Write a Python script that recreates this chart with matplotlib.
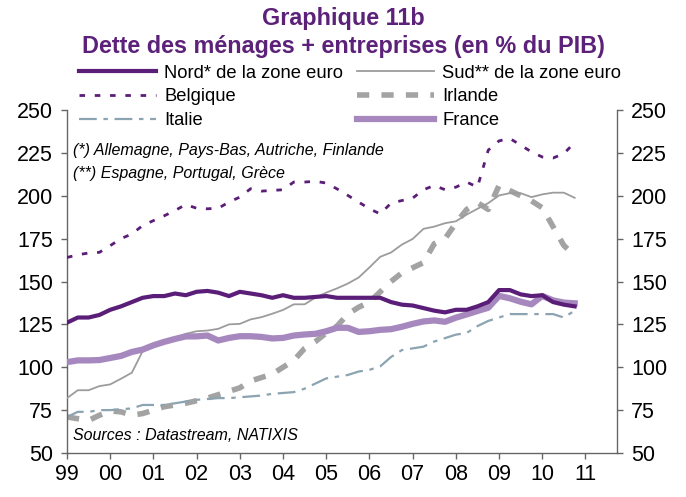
import matplotlib
matplotlib.use("Agg")
import matplotlib.pyplot as plt
import numpy as np

plt.rcParams['font.family'] = ['Liberation Sans', 'DejaVu Sans']

# Quarterly data, 1999Q1 .. 2010Q4
start_year = 1999
n_q = 48
nord = [126, 129, 129, 130.5, 133.5, 135.5, 138, 140.5,
        141.5, 141.5, 143, 142, 144, 144.5, 143.5, 141.5,
        144, 143, 142, 140.5, 142, 140.5, 140.5, 141,
        141.5, 140.5, 140.5, 140.5, 140.5, 140.5, 138, 136.5,
        136, 134.5, 133, 132, 133.5, 133.5, 135.5, 138,
        145, 145, 142.5, 141.5, 142, 138, 136.5, 135.5]
sud = [82, 86.6, 86.6, 89, 90, 93.3, 96.8, 109.3,
       112.3, 115.2, 117.1, 119.5, 121, 121.4, 122.4, 125,
       125.3, 127.9, 129.2, 131.2, 133.4, 136.7, 136.7, 140.6,
       143.5, 146, 148.8, 152.3, 158.2, 164.4, 166.9, 171.5,
       174.8, 180.7, 182, 184, 185.1, 189, 192.4, 195.7,
       200.2, 201.5, 201.5, 199.2, 200.8, 201.8, 201.8, 198.8]
belgique = [164, 165.6, 166.6, 167, 170.9, 175, 177.7, 182.6,
            185.5, 188.3, 191.4, 194.9, 192.7, 192.4, 192.7, 196.3,
            199.2, 204.1, 202.7, 203.1, 203.5, 208, 208, 208.4,
            207.4, 204, 200.2, 196.3, 192.4, 189.4, 195.7, 197.2,
            198.6, 203.5, 206, 203.5, 205, 208, 205, 226.6,
            232, 233.4, 229.5, 225.6, 222.6, 222, 224.6, 231]
irlande = [71, 70, 69, 72, 74.5, 74, 72, 73,
           75, 77, 78, 79, 80.5, 82, 84, 86,
           88, 92, 94, 96, 100, 104, 111, 115,
           120, 124, 131, 135, 138, 144, 150, 155,
           158, 161, 172, 175, 184, 192, 196, 192,
           206, 203, 200, 197, 193, 182, 171, 165]
italie = [71, 74, 74, 75, 75, 75.5, 76, 78,
          78, 78, 79, 80, 81, 81.5, 82, 82,
          82.5, 83, 83.5, 84.5, 85, 85.5, 87.5, 90.5,
          93.5, 94.5, 95.5, 97.5, 98.5, 100.5, 106, 110,
          111, 112, 115, 117, 119, 120, 124, 127,
          129, 131, 131, 131, 131, 131, 129, 133]
france = [103, 104, 104, 104.2, 105.4, 106.6, 108.9, 110.3,
          112.8, 114.8, 116.5, 118, 118, 118.5, 115.6, 117.1,
          118.1, 118.1, 117.7, 116.8, 117.1, 118.5, 119.1, 119.5,
          121, 123, 123, 120.6, 121, 121.8, 122.2, 123.6,
          125.3, 126.7, 127.3, 126.5, 128.9, 130.8, 132.8, 134.7,
          141.6, 140.2, 138.2, 136.7, 141.6, 139, 137.7, 137.3]

year_ticks = list(range(1999, 2012))
year_labels = ["99", "00", "01", "02", "03", "04", "05", "06", "07", "08", "09", "10", "11"]
y_ticks = [50, 75, 100, 125, 150, 175, 200, 225, 250]

t = start_year + np.arange(n_q) * 0.25

purple = '#5A1E78'
lilac = '#A688BE'
italie_col = '#8CA3B1'

fig = plt.figure(figsize=(6.86, 4.97), dpi=100)
ax = fig.add_axes([67/686, 1-453/497, (617-67)/686, (453-110)/497])

l_sud, = ax.plot(t, sud, color='#9C9C9C', lw=1.3, zorder=3)
l_irl, = ax.plot(t, irlande, color='#A3A3A3', lw=4.0, dashes=(2.2, 2.2), zorder=2)
l_ita, = ax.plot(t, italie, color=italie_col, lw=1.6, dashes=(8, 3, 2, 3), zorder=2)
l_bel, = ax.plot(t, belgique, color=purple, lw=2.0, dashes=(2, 3.5), zorder=3)
l_fra, = ax.plot(t, france, color=lilac, lw=4.5, zorder=4)
l_nord, = ax.plot(t, nord, color=purple, lw=3.0, zorder=5)

ax.set_xlim(1999, 2011.73)
ax.set_ylim(50, 250)
ax.set_xticks(year_ticks)
ax.set_xticklabels(year_labels)
ax.set_yticks(y_ticks)
ax.set_yticklabels([str(v) for v in y_ticks])
ax.tick_params(axis='y', left=True, right=True, labelleft=True, labelright=True,
               direction='out', length=4, width=1, color='#666666', labelsize=15.5, pad=6)
ax.tick_params(axis='x', direction='out', length=4, width=1, color='#666666',
               labelsize=15.5, pad=4)
for s in ['left', 'right', 'bottom']:
    ax.spines[s].set_color('#666666')
    ax.spines[s].set_linewidth(1.0)
ax.spines['top'].set_visible(False)

title_col = '#5C2179'
fig.text(0.5, 1-18.5/497, "Graphique 11b", ha='center', va='center',
         fontsize=16.8, fontweight='bold', color=title_col)
fig.text(0.5, 1-47/497, "Dette des ménages + entreprises (en % du PIB)", ha='center',
         va='center', fontsize=16.8, fontweight='bold', color=title_col)

# legend filled column-wise: col1 = Nord, Belgique, Italie ; col2 = Sud, Irlande, France
handles = [l_nord, l_bel, l_ita, l_sud, l_irl, l_fra]
labels = ["Nord* de la zone euro", "Belgique", "Italie",
          "Sud** de la zone euro", "Irlande", "France"]
leg = fig.legend(handles, labels, ncol=2, loc='upper left',
                 bbox_to_anchor=(79/686, 1-64.5/497), frameon=False, fontsize=13.2,
                 handlelength=4.2, handletextpad=0.45, columnspacing=0.75,
                 labelspacing=0.38, borderpad=0, borderaxespad=0)

ax.text(0.011, 0.883, "(*) Allemagne, Pays-Bas, Autriche, Finlande", transform=ax.transAxes,
        fontsize=11.5, style='italic', va='center', ha='left')
ax.text(0.011, 0.816, "(**) Espagne, Portugal, Grèce", transform=ax.transAxes,
        fontsize=11.5, style='italic', va='center', ha='left')
ax.text(0.011, 0.052, "Sources : Datastream, NATIXIS", transform=ax.transAxes,
        fontsize=11.5, style='italic', va='center', ha='left')

fig.savefig("out.png", dpi=100)
